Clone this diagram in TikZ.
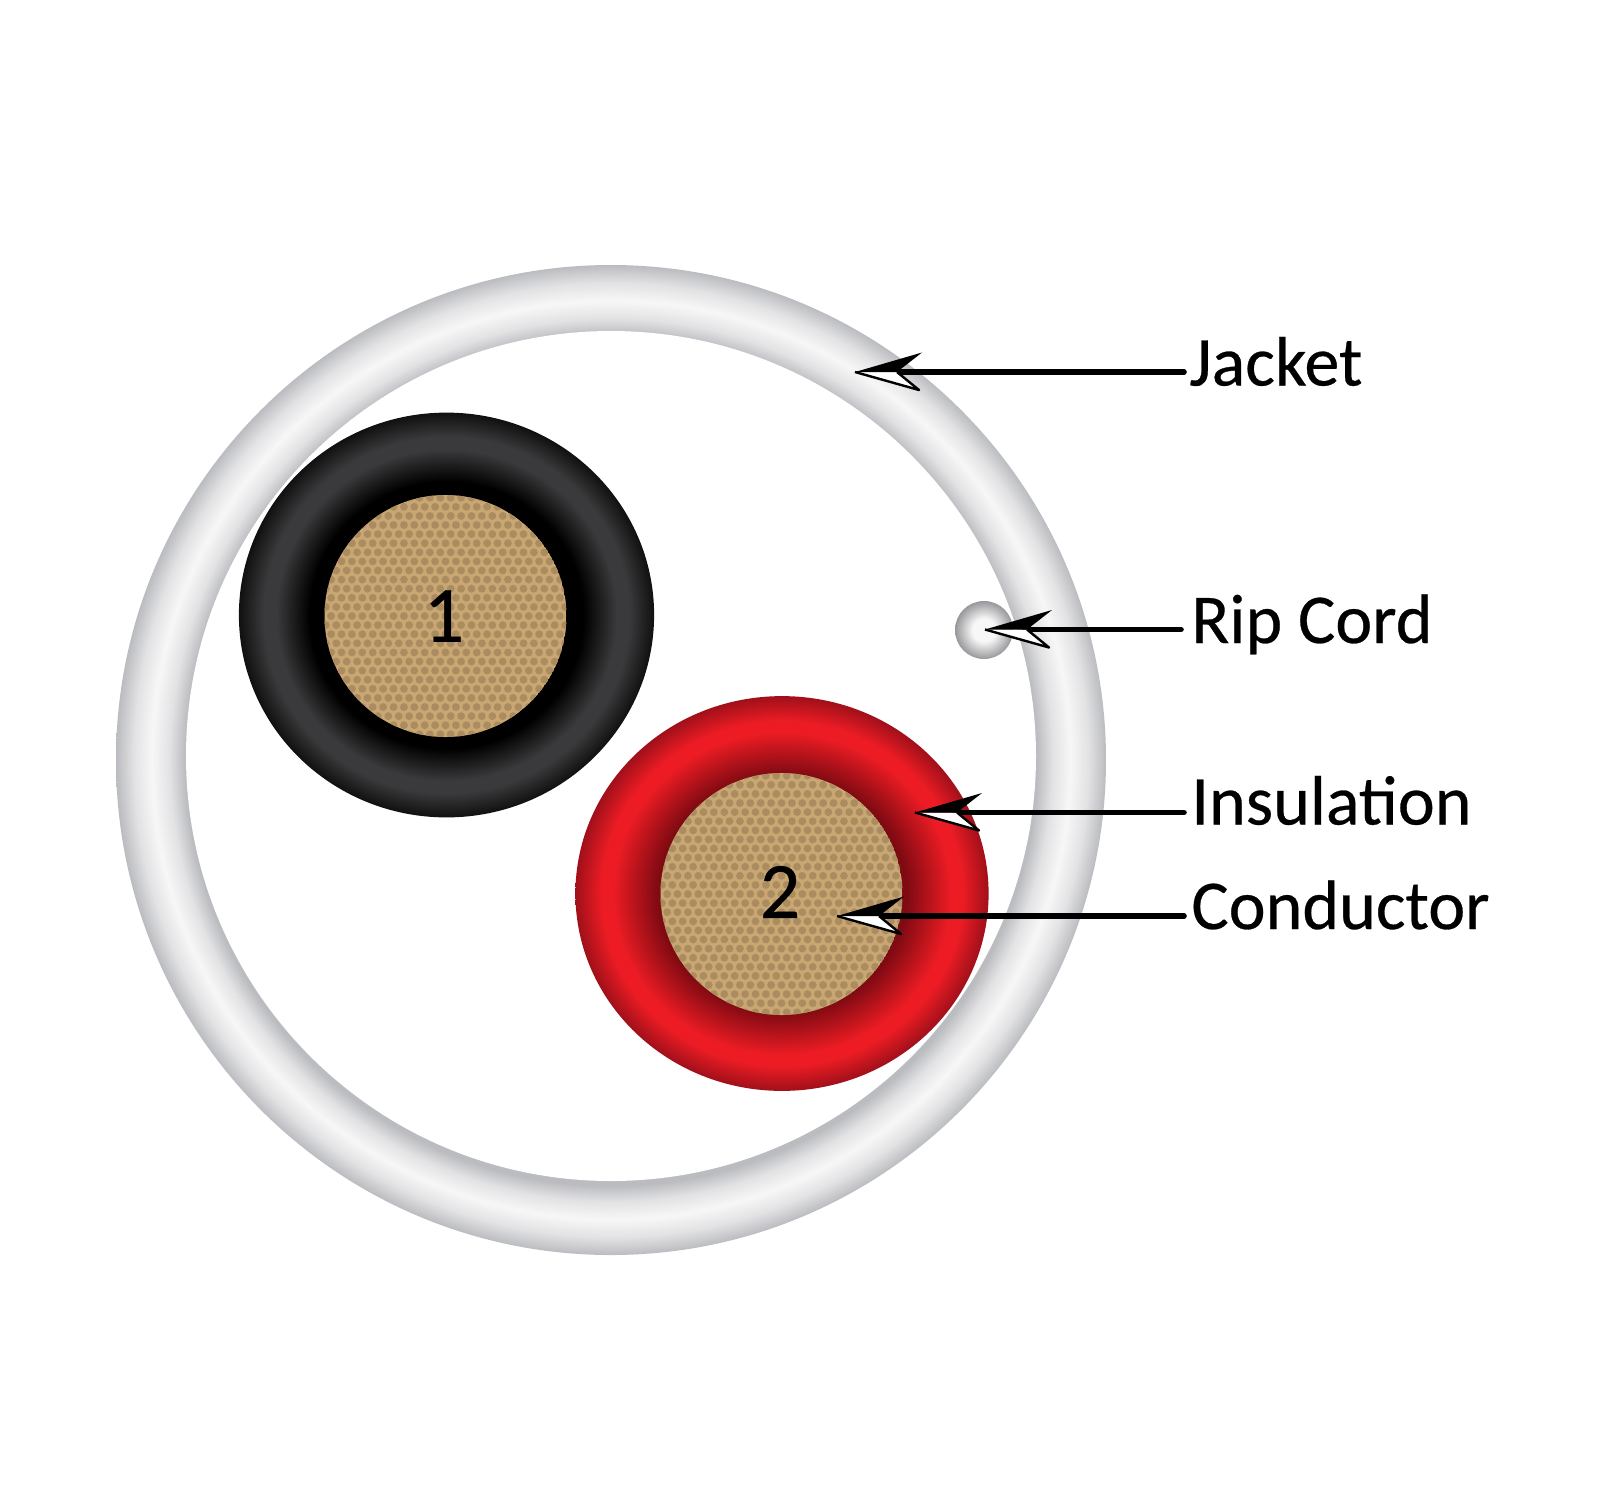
\documentclass[tikz,border=0pt]{standalone}
\usepackage{fontspec}
\setmainfont[FakeBold=0.4]{Carlito}
\definecolor{jkedge}{HTML}{BBBCC0}
\definecolor{jksoft}{HTML}{E2E2E4}
\definecolor{jkmid}{HTML}{F7F7F7}
\definecolor{bkmid}{HTML}{3A3A3C}
\definecolor{bkedge}{HTML}{101010}
\definecolor{rddark}{HTML}{7E0A12}
\definecolor{rdmid}{HTML}{ED1C24}
\definecolor{rddark2}{HTML}{A0101A}
\definecolor{cordedge}{HTML}{98989C}
\definecolor{corebase}{HTML}{C8A772}
\definecolor{coredot}{HTML}{AB8C60}
\pgfdeclareradialshading{jacketshade}{\pgfpoint{0bp}{0bp}}{color(0bp)=(white);color(21.2bp)=(jkedge);color(21.5bp)=(jkedge);color(22.3bp)=(jksoft);color(23.2bp)=(jkmid);color(24.1bp)=(jksoft);color(25bp)=(jkedge);color(50bp)=(jkedge)}
\pgfdeclareradialshading{blackshade}{\pgfpoint{0bp}{0bp}}{color(0bp)=(black);color(16.5bp)=(black);color(20.5bp)=(bkmid);color(22bp)=(bkmid);color(25bp)=(bkedge);color(50bp)=(bkedge)}
\pgfdeclareradialshading{redshade}{\pgfpoint{0bp}{0bp}}{color(0bp)=(rddark);color(15bp)=(rddark);color(20.5bp)=(rdmid);color(21.8bp)=(rdmid);color(25bp)=(rddark2);color(50bp)=(rddark2)}
\pgfdeclareradialshading{cordshade}{\pgfpoint{0bp}{0bp}}{color(0bp)=(jkmid);color(10bp)=(jkmid);color(25bp)=(cordedge);color(50bp)=(cordedge)}
\tikzset{
  labeltext/.style={font=\fontsize{35}{40}\selectfont,anchor=base west,inner sep=0pt,text=black},
  numtext/.style={font=\fontsize{40}{44}\selectfont,anchor=center,inner sep=0pt,text=black},
  leader/.style={draw=black,line width=2.8pt,line cap=round},
}
\newcommand{\arrowhd}[2]{%
  \fill[white] (#1,#2) -- ++(64,18) -- ++(-22,-18) -- cycle;
  \draw[black,line width=1.2pt,line join=round] (#1,#2) -- ++(64,18) -- ++(-22,-18);
  \fill[black] (#1,#2) -- ++(67,-19.5) -- ++(-25,19.5) -- cycle;
}
\newcommand{\coredots}[2]{%
  \begin{scope}
    \clip (#1,#2) ellipse [x radius=60.5pt,y radius=60.5pt];
    \fill[corebase] (#1,#2) ellipse [x radius=60.5pt,y radius=60.5pt];
    \foreach \r in {-14,...,14}{
      \pgfmathsetmacro{\ofs}{mod(abs(\r),2)*5.2}
      \foreach \c in {-12,...,12}{
        \fill[coredot] ({#1+\c*10.4+\ofs},{#2+\r*9.1}) circle [radius=1.95pt];
      }
    }
  \end{scope}
}
\begin{document}
\begin{tikzpicture}[x=0.5pt,y=-0.5pt]
\useasboundingbox (0,0) rectangle (1600,1500);
\fill[white] (0,0) rectangle (1600,1500);
\shade[shading=jacketshade] (611,760) circle [radius=247.5pt];
\fill[white] (611,756) circle [radius=212.5pt];
\shade[shading=blackshade] (446.5,615) ellipse [x radius=103.8pt,y radius=101.2pt];
\coredots{445.5}{616}
\shade[shading=redshade] (782,893.5) ellipse [x radius=103.3pt,y radius=98.7pt];
\coredots{781.5}{894}
\shade[shading=cordshade] (984,630) circle [radius=14.5pt];
\node[numtext] (n1) at (444,616) {1};
\node[numtext] (n2) at (780,892) {2};
\node[labeltext] (jacket) at (1189,385.5) {Jacket};
\node[labeltext] (rip) at (1191,643) {Rip Cord};
\node[labeltext] (ins) at (1191,824.5) {Insulation};
\node[labeltext] (cond) at (1191,929) {Conductor};
\coordinate (tj) at (855,372);
\coordinate (tr) at (985,629.5);
\coordinate (ti) at (915,812.5);
\coordinate (tc) at (837,916);
\coordinate (ej) at (1184,372);
\coordinate (er) at (1181,629.5);
\coordinate (ei) at (1184,812.5);
\coordinate (ec) at (1184,916);
\draw[leader] (ej) -- ([xshift=20pt]tj);
\draw[leader] (er) -- ([xshift=20pt]tr);
\draw[leader] (ei) -- ([xshift=20pt]ti);
\draw[leader] (ec) -- ([xshift=20pt]tc);
\arrowhd{855}{372}
\arrowhd{985}{629.5}
\arrowhd{915}{812.5}
\arrowhd{837}{916}
\end{tikzpicture}
\end{document}
